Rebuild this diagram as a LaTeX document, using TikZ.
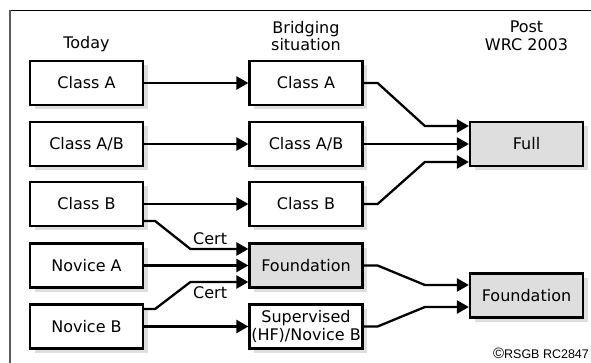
\documentclass[tikz,border=0pt]{standalone}
\usepackage{fontspec}
\setmainfont{DejaVu Sans}
\newfontfamily\smallfont{Liberation Sans}
\usetikzlibrary{arrows.meta,shadows}
\begin{document}
\begin{tikzpicture}[x=1pt, y=-1pt, font=\fontsize{16}{17.5}\selectfont, >={Triangle[length=12pt,width=13pt]},
	box/.style={draw, line width=2.2pt, fill=white, minimum width=113pt, minimum height=44pt, inner sep=1pt, align=center,
		drop shadow={shadow xshift=4.5pt, shadow yshift=-4.5pt, fill=black!13, opacity=1}},
	grey/.style={box, fill=black!13},
	link/.style={->, line width=2.3pt}]
	\useasboundingbox (0,0) rectangle (591,363);
	\draw[line width=1.8pt] (10,10.5)--(591,10.5);
	\draw[line width=2.2pt, black!65] (10,10)--(10,363);
	% column headings
	\node (today) at (86.5,44) {Today};
	\node[align=center] (bridge) at (306,36) {Bridging\\situation};
	\node[align=center] (post) at (526.5,36) {Post\\WRC 2003};
	% boxes
	\foreach \n/\y/\t in {tA/83/Class A, tAB/144/Class A\slash B, tB/204/Class B, nA/265.5/Novice A, nB/326.5/Novice B}{
	\node[box] (\n) at (86.5,\y) {\t};
	}
	\foreach \n/\y/\t in {bA/83/Class A, bAB/144/Class A\slash B, bB/204/Class B}{
	\node[box] (\n) at (306,\y) {\t};
	}
	\node[grey] (bF) at (306,265.5) {Foundation};
	\node[box] (bS) at (306,326.5) {Supervised\\(HF)/Novice B};
	\node[grey] (pFull) at (526.5,144) {Full};
	\node[grey] (pF) at (526.5,295.5) {Foundation};
	% connectors
	\foreach \a/\b in {tA/bA, tAB/bAB, tB/bB, nA/bF, nB/bS, bAB/pFull}{
	\draw[link] (\a)--(\b);
	}
	\draw[link] (bA.east)--++(14,0)--([xshift=-44pt,yshift=18pt]pFull.west)--([yshift=18pt]pFull.west);
	\draw[link] (bB.east)--++(14,0)--([xshift=-44pt,yshift=-18pt]pFull.west)--([yshift=-18pt]pFull.west);
	\draw[link] ([yshift=-17pt]tB.east)--++(11,0)--([xshift=-58pt,yshift=16.5pt]bF.west)--node[above,pos=0.34]{Cert}([yshift=16.5pt]bF.west);
	\draw[link] ([yshift=17.5pt]nB.east)--++(11,0)--([xshift=-58pt,yshift=-16.5pt]bF.west)--node[below,pos=0.34]{Cert}([yshift=-16.5pt]bF.west);
	\draw[link] (bF.east)--++(14,0)--([xshift=-44pt,yshift=10.5pt]pF.west)--([yshift=10.5pt]pF.west);
	\draw[link] (bS.east)--++(14,0)--([xshift=-44pt,yshift=-11.5pt]pF.west)--([yshift=-11.5pt]pF.west);
	\node[inner sep=0pt, font=\smallfont\fontsize{12.5}{13}\selectfont] (copy) at (541,353.5) {{\fontsize{15}{15}\selectfont\textcopyright}RSGB RC2847};
\end{tikzpicture}
\end{document}
